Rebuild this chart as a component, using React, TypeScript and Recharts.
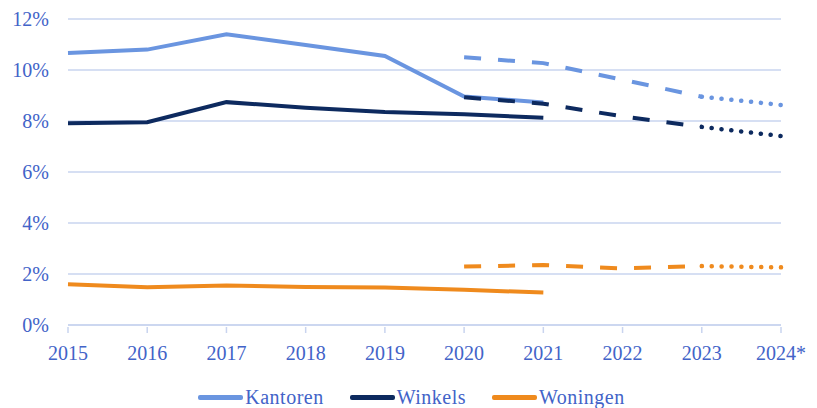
import { LineChart, Line, XAxis, YAxis, CartesianGrid, Legend } from 'recharts';

// Rendementen per vastgoedsegment (in %), gerealiseerd en prognose
const jaren = ['2015', '2016', '2017', '2018', '2019', '2020', '2021', '2022', '2023', '2024*'];

const kantoren = [10.67, 10.8, 11.4, 10.98, 10.55, 8.96, 8.73, null, null, null];
const kantorenPrognose = [null, null, null, null, null, 10.5, 10.27, 9.62, 8.95, null];
const kantorenLang = [null, null, null, null, null, null, null, null, 8.95, 8.63];

const winkels = [7.91, 7.95, 8.74, 8.52, 8.35, 8.26, 8.13, null, null, null];
const winkelsPrognose = [null, null, null, null, null, 8.93, 8.68, 8.18, 7.77, null];
const winkelsLang = [null, null, null, null, null, null, null, null, 7.77, 7.41];

const woningen = [1.6, 1.48, 1.55, 1.49, 1.47, 1.38, 1.27, null, null, null];
const woningenPrognose = [null, null, null, null, null, 2.29, 2.35, 2.22, 2.31, null];
const woningenLang = [null, null, null, null, null, null, null, null, 2.31, 2.26];

const yTicks = [0, 2, 4, 6, 8, 10, 12];

const COLORS = {
    kantoren: '#6a95e0',
    winkels: '#0d2a5f',
    woningen: '#ef8a1d',
    text: '#4263c8',
    grid: '#c9d4ef'
} as const;

const FONT = '"Liberation Serif", "DejaVu Serif", serif';

const data = jaren.map((jaar, i) => ({
    jaar,
    kantoren: kantoren[i],
    kantorenPrognose: kantorenPrognose[i],
    kantorenLang: kantorenLang[i],
    winkels: winkels[i],
    winkelsPrognose: winkelsPrognose[i],
    winkelsLang: winkelsLang[i],
    woningen: woningen[i],
    woningenPrognose: woningenPrognose[i],
    woningenLang: woningenLang[i]
}));

const legendItems = [
    { name: 'Kantoren', color: COLORS.kantoren },
    { name: 'Winkels', color: COLORS.winkels },
    { name: 'Woningen', color: COLORS.woningen }
];

function XTick(props: any) {
    const { x, y, payload } = props;
    return (
        <g>
            <line x1={x} x2={x} y1={y - 6} y2={y} stroke={COLORS.grid} strokeWidth={1.5} />
            <text x={x} y={y + 27} textAnchor="middle" fill={COLORS.text} fontSize={20} fontFamily={FONT}>
                {payload.value}
            </text>
        </g>
    );
}

function YTick(props: any) {
    const { y, payload } = props;
    return (
        <text x={49} y={y + 7} textAnchor="end" fill={COLORS.text} fontSize={20} fontFamily={FONT}>
            {payload.value}%
        </text>
    );
}

function LegendContent() {
    return (
        <div style={{ display: 'flex', justifyContent: 'center', alignItems: 'center', paddingLeft: 42, paddingTop: 6, fontFamily: FONT }}>
            {legendItems.map((item) => (
                <div key={item.name} style={{ display: 'flex', alignItems: 'center', margin: '0 13px' }}>
                    <span style={{ display: 'inline-block', width: 45, height: 5, background: item.color, borderRadius: 2 }} />
                    <span style={{ color: COLORS.text, fontSize: 20, marginLeft: 2, letterSpacing: 0.5 }}>{item.name}</span>
                </div>
            ))}
        </div>
    );
}

export default function App() {
    const dashed = '17 17';
    const dotted = '0.1 9.8';
    return (
        <div style={{ position: 'absolute', left: 0, top: 0, width: 817, height: 408, background: '#fff' }}>
            <LineChart width={817} height={408} data={data} margin={{ top: 19, right: 36, left: 0, bottom: 0 }}>
                <CartesianGrid horizontal vertical={false} stroke={COLORS.grid} strokeWidth={1.5} />
                <XAxis
                    dataKey="jaar"
                    interval={0}
                    height={55}
                    padding={{ left: 0, right: 0 }}
                    axisLine={{ stroke: COLORS.grid, strokeWidth: 1.5 }}
                    tickLine={false}
                    tick={<XTick />}
                />
                <YAxis
                    width={68}
                    domain={[0, 12]}
                    ticks={yTicks}
                    interval={0}
                    axisLine={false}
                    tickLine={false}
                    tick={<YTick />}
                />
                <Legend verticalAlign="bottom" height={28} content={<LegendContent />} />

                <Line dataKey="kantoren" stroke={COLORS.kantoren} strokeWidth={4} dot={false} isAnimationActive={false} />
                <Line dataKey="winkels" stroke={COLORS.winkels} strokeWidth={4} dot={false} isAnimationActive={false} />
                <Line dataKey="woningen" stroke={COLORS.woningen} strokeWidth={4} dot={false} isAnimationActive={false} />

                <Line dataKey="kantorenPrognose" stroke={COLORS.kantoren} strokeWidth={4} strokeDasharray={dashed} dot={false} isAnimationActive={false} legendType="none" />
                <Line dataKey="winkelsPrognose" stroke={COLORS.winkels} strokeWidth={4} strokeDasharray={dashed} dot={false} isAnimationActive={false} legendType="none" />
                <Line dataKey="woningenPrognose" stroke={COLORS.woningen} strokeWidth={4} strokeDasharray={dashed} dot={false} isAnimationActive={false} legendType="none" />

                <Line dataKey="kantorenLang" stroke={COLORS.kantoren} strokeWidth={4.5} strokeDasharray={dotted} strokeLinecap="round" dot={false} isAnimationActive={false} legendType="none" />
                <Line dataKey="winkelsLang" stroke={COLORS.winkels} strokeWidth={4.5} strokeDasharray={dotted} strokeLinecap="round" dot={false} isAnimationActive={false} legendType="none" />
                <Line dataKey="woningenLang" stroke={COLORS.woningen} strokeWidth={4.5} strokeDasharray={dotted} strokeLinecap="round" dot={false} isAnimationActive={false} legendType="none" />
            </LineChart>
        </div>
    );
}
